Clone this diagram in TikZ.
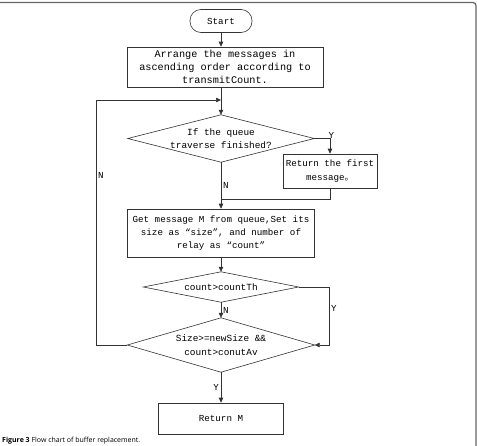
\documentclass[tikz,border=0pt]{standalone}
\usepackage{fontspec}
\setmonofont{Liberation Mono}
\newfontfamily\cjk{Noto Sans CJK SC}
\newfontfamily\capfont{Open Sans}
\usetikzlibrary{arrows.meta}
\begin{document}
\begin{tikzpicture}[x=1pt,y=-1pt,
  ln/.style={draw=black!80, line width=0.6pt},
  arr/.style={ln, -{Triangle[length=5pt,width=4.5pt]}},
  box/.style={ln, rectangle, inner sep=0pt, align=center, font=\ttfamily\fontsize{9.2}{13.3}\selectfont},
  term/.style={box, rounded corners=11pt},
  dtext/.style={rectangle, inner sep=0pt, align=center, font=\ttfamily\fontsize{9.4}{13.3}\selectfont},
  lbl/.style={inner sep=0pt, font=\ttfamily\fontsize{9.2}{11}\selectfont}
]
\useasboundingbox (0,0) rectangle (477,445);
% frame
\draw[black!60, line width=1.3pt, rounded corners=3pt] (-2,2.5) -- (476,2.5) -- (476,450);

% nodes
\node[term, minimum width=62, minimum height=23] (start) at (221,21) {Start};
\node[box, minimum width=196, minimum height=40, font=\ttfamily\fontsize{10.2}{13.3}\selectfont] (b1) at (225,67)
  {Arrange the messages in\\ascending order according to\\transmitCount.};
\node[dtext, minimum width=186, minimum height=47] (d1) at (221,138.5)
  {If the queue\\traverse finished?};
\node[box, minimum width=94, minimum height=34] (b2) at (330,171)
  {Return the first\\message{\cjk 。}};
\node[box, minimum width=187, minimum height=48] (b3) at (221,233)
  {Get message M from queue,Set its\\size as “size”, and number of\\relay as “count”};
\node[dtext, minimum width=155, minimum height=30] (d2) at (221,287) {count>countTh};
\node[dtext, minimum width=187, minimum height=54] (d3) at (221,345)
  {Size>=newSize \&\&\\count>conutAv};
\node[box, minimum width=125, minimum height=31] (b4) at (221,418.5) {Return M};

% diamonds
\foreach \d in {d1,d2,d3}
  \draw[ln] (\d.north) -- (\d.east) -- (\d.south) -- (\d.west) -- cycle;

% connectors
\coordinate (lp) at (96,100);
\coordinate (j) at (221,199);
\coordinate (r) at (329,0);
\draw[arr] (start.south) -- (start.south |- b1.north);
\draw[arr] (start.south |- b1.south) -- (d1.north);
\draw[arr] (d3.west) -- (d3.west -| lp) -- (lp) -- (lp -| d1.north);
\draw[arr] (d1.east) -- (d1.east -| b2.north) -- (b2.north);
\draw[ln] (b2.south) |- (j);
\draw[arr] (d1.south) -- (b3.north);
\draw[arr] (b3.south) -- (d2.north);
\draw[arr] (d2.south) -- (d3.north);
\draw[arr] (d2.east) -- (d2.east -| r) -- (d3.east -| r) -- (d3.east);
\draw[arr] (d3.south) -- (b4.north);

% labels
\node[lbl] (ly1) at (331.5,135) {Y};
\node[lbl, anchor=west] (ln1) at (98,175) {N};
\node[lbl, anchor=west] (ln2) at (223,185) {N};
\node[lbl, anchor=west] (ln3) at (223,310) {N};
\node[lbl, anchor=west] (ly2) at (331,308) {Y};
\node[lbl, anchor=east] (ly3) at (219,387) {Y};

% caption
\node[anchor=north west, inner sep=0pt, font=\capfont\fontsize{7}{8}\selectfont] (cap) at (2,436.5)
  {\textbf{Figure 3} Flow chart of buffer replacement.};
\end{tikzpicture}
\end{document}
